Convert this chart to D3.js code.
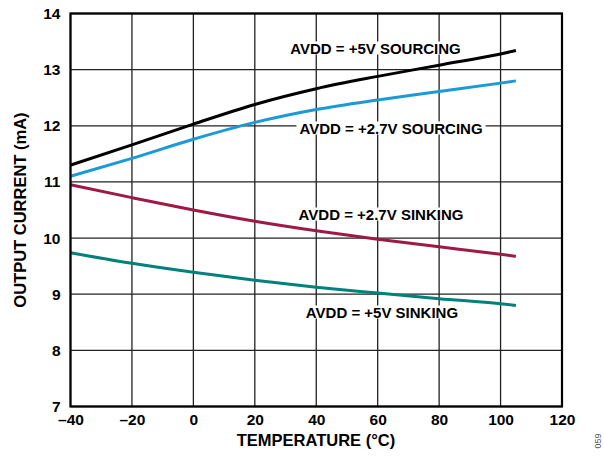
<!DOCTYPE html>
<html><head><meta charset="utf-8">
<script src="https://cdn.jsdelivr.net/npm/d3@7"></script>
<style>body{margin:0;background:#fff}svg{display:block}text{font-family:Arial,"Liberation Sans",sans-serif;font-weight:bold}</style>
</head><body><svg id="c" width="604" height="456"></svg>
<script>
const temps = [-40,-20,0,20,40,60,80,100,105];
const src5 = [11.3,11.66,12.03,12.38,12.66,12.88,13.08,13.28,13.34];
const src27 = [11.1,11.42,11.76,12.06,12.29,12.46,12.61,12.76,12.8];
const snk27 = [10.95,10.72,10.5,10.3,10.13,9.98,9.845,9.71,9.675];
const snk5 = [9.74,9.55,9.39,9.25,9.125,9.02,8.92,8.83,8.8];
const xTicks = [-40,-20,0,20,40,60,80,100,120];
const yTicks = [7,8,9,10,11,12,13,14];
const seriesNames = ["AVDD = +5V SOURCING","AVDD = +2.7V SOURCING","AVDD = +2.7V SINKING","AVDD = +5V SINKING"];
const seriesColors = ["#000000","#1c9ad6","#9c1a43","#00817b"];
const labelPos = [[375.5,48],[391,128],[381,214],[382,312]];

const svg = d3.select("#c");
const L=70.5,R=562,T=13.5,B=406.5;
const x = d3.scaleLinear().domain([-40,120]).range([L,R]);
const y = d3.scaleLinear().domain([7,14]).range([B,T]);
const FF = "Arial, 'Liberation Sans', sans-serif";

const g = svg.append("g");
g.selectAll("line.vx").data(xTicks).enter().append("line")
 .attr("x1",d=>x(d)).attr("x2",d=>x(d)).attr("y1",T).attr("y2",B)
 .attr("stroke","#222").attr("stroke-width",1.3);
g.selectAll("line.hy").data(yTicks).enter().append("line")
 .attr("y1",d=>y(d)).attr("y2",d=>y(d)).attr("x1",L).attr("x2",R)
 .attr("stroke","#222").attr("stroke-width",1.3);

const line = d3.line().x((d,i)=>x(temps[i])).y(d=>y(d)).curve(d3.curveMonotoneX);
[src5,src27,snk27,snk5].forEach((s,i)=>{
  svg.append("path").attr("d",line(s)).attr("fill","none")
   .attr("stroke",seriesColors[i]).attr("stroke-width",3);
});

seriesNames.forEach((n,i)=>{
  const t = svg.append("text").attr("x",labelPos[i][0]).attr("y",labelPos[i][1])
   .attr("text-anchor","middle").attr("dominant-baseline","central")
   .attr("font-size",15).attr("fill","#000").text(n);
  const bb = t.node().getBBox();
  svg.insert("rect",()=>t.node()).attr("x",bb.x-3).attr("y",bb.y+2).attr("width",bb.width+6).attr("height",bb.height-4).attr("fill","#fff");
});

svg.append("rect").attr("x",L).attr("y",T).attr("width",R-L).attr("height",B-T)
 .attr("fill","none").attr("stroke","#000").attr("stroke-width",2.2);

const xa = svg.append("g").attr("transform",`translate(0,${B})`)
 .call(d3.axisBottom(x).tickValues(xTicks).tickSize(0).tickPadding(7).tickFormat(d=>d<0?"\u2013"+Math.abs(d):d));
xa.select(".domain").remove();
xa.selectAll("text").attr("font-size",15.5).attr("fill","#000").style("font-family",FF).style("font-weight","bold");
const ya = svg.append("g").attr("transform",`translate(${L},0)`)
 .call(d3.axisLeft(y).tickValues(yTicks).tickSize(0).tickPadding(10).tickFormat(d3.format("d")));
ya.select(".domain").remove();
ya.selectAll("text").attr("font-size",15.5).attr("fill","#000").style("font-family",FF).style("font-weight","bold");

svg.append("text").attr("x",316).attr("y",446).attr("text-anchor","middle").attr("font-size",16.5).text("TEMPERATURE (°C)");
svg.append("text").attr("transform","translate(26,210) rotate(-90)").attr("text-anchor","middle").attr("font-size",16.5).text("OUTPUT CURRENT (mA)");
svg.append("text").attr("transform","translate(601,441) rotate(-90)").attr("text-anchor","middle").attr("font-size",9).attr("fill","#555").style("font-weight","normal").text("059");
</script></body></html>
